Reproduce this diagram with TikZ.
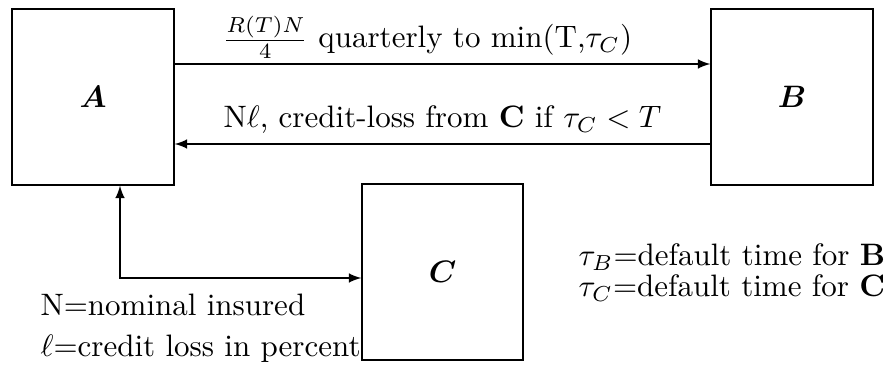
\documentclass[tikz,border=0pt]{standalone}
\usepackage{amsmath,amssymb}
\begin{document}
\begin{tikzpicture}[x=0.3226pt,y=-0.3226pt,
  agent/.style={draw,rectangle,minimum width=52.26pt,minimum height=56.78pt,inner sep=0pt},
  lbl/.style={inner sep=0pt,anchor=base west},
  flow/.style={-latex}]
\useasboundingbox (0,0) rectangle (888,367);
\node[agent] (A) at (93,97) {$\boldsymbol{A}$};
\node[agent] (B) at (792,97) {$\boldsymbol{B}$};
\node[agent,minimum width=51.94pt] (C) at (442.5,272) {$\boldsymbol{C}$};
\coordinate (top) at (0,64);
\coordinate (bot) at (0,144);
\coordinate (corner) at (120,278);
\draw[flow] (A.east |- top) -- (B.west |- top);
\draw[flow] (B.west |- bot) -- (A.east |- bot);
\draw[latex-latex] (corner |- A.south) -- (corner) -- (corner -| C.west);
\node[lbl] (l1) at (222,48) {$\frac{R(T)N}{4}$ quarterly to min(T,$\tau_C$)};
\node[lbl] (l2) at (223,128) {N$\ell$, credit-loss from \textbf{C} if $\tau_C < T$};
\node[lbl] (l3) at (40,316) {N${=}$nominal insured};
\node[lbl] (l4) at (40,357) {$\ell{=}$credit loss in percent};
\node[lbl] (l5) at (578,266) {$\tau_B{=}$default time for \textbf{B}};
\node[lbl] (l6) at (578,297) {$\tau_C{=}$default time for \textbf{C}};
\end{tikzpicture}
\end{document}
